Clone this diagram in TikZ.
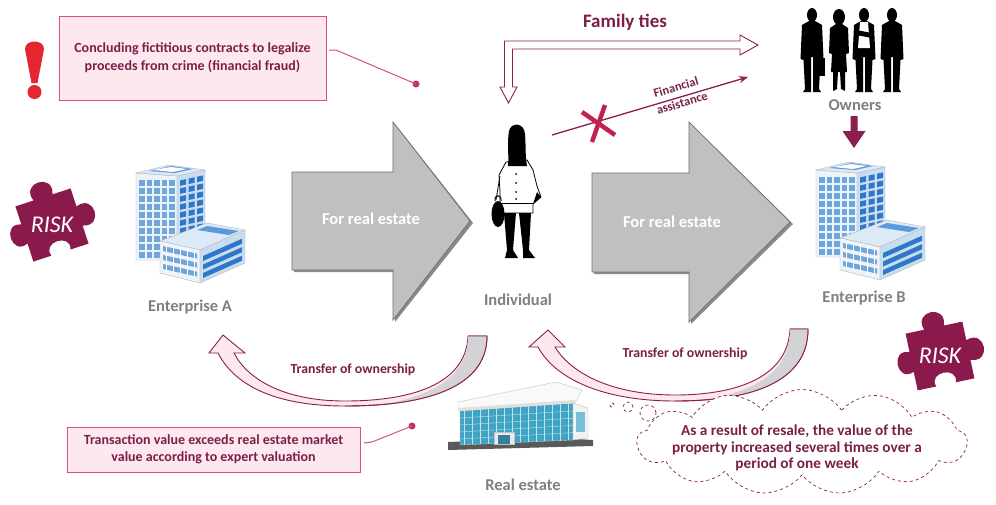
\documentclass[tikz,border=0pt]{standalone}
\usepackage{fontspec}
\setmainfont{Carlito}
\usetikzlibrary{shapes.symbols,arrows.meta}
\definecolor{maroon}{HTML}{7B1F49}
\definecolor{linemar}{HTML}{8C1D4F}
\definecolor{calbord}{HTML}{D6517D}
\definecolor{calfill}{HTML}{FDE8F0}
\definecolor{dotred}{HTML}{C8305F}
\definecolor{lblgray}{HTML}{808080}
\definecolor{arrgray}{HTML}{C0C0C3}
\definecolor{arrshadow}{HTML}{8A8A8D}
\definecolor{puzzlec}{HTML}{8A1A4B}
\definecolor{xred}{HTML}{C2224E}
\definecolor{exred}{HTML}{E5252F}
\definecolor{bldglight}{HTML}{EEF3F8}
\definecolor{bldgside}{HTML}{C9DDF0}
\definecolor{roofc}{HTML}{DCEAF7}
\definecolor{roofdark}{HTML}{5C9ADB}
\definecolor{winlight}{HTML}{6FA6DD}
\definecolor{winblue}{HTML}{2F78C8}
\definecolor{glassc}{HTML}{3FA3C4}
\definecolor{crescent}{HTML}{D3D3D6}
\tikzset{
  callout/.style={draw=calbord, line width=1pt, fill=calfill, text=maroon,
    font=\bfseries\fontsize{14}{18}\selectfont, align=center, inner sep=0pt},
  graylbl/.style={text=lblgray, font=\bfseries\fontsize{16.5}{18}\selectfont},
  whitelbl/.style={text=white, font=\bfseries\fontsize{16.5}{18}\selectfont},
  marlbl/.style={text=maroon, font=\bfseries\fontsize{13.8}{16}\selectfont},
  falabel/.style={text=maroon, font=\bfseries\fontsize{12.5}{13}\selectfont, rotate=16.6, inner sep=0pt},
  bigarrow/.style={fill=arrgray, draw=arrshadow!80!black, line width=0.7pt},
  curvearrow/.style={fill=calfill, draw=linemar, line width=0.9pt},
  bldgedge/.style={draw=gray!55, line width=0.4pt},
  office/.pic={
    % tower left face
    \filldraw[fill=bldglight, bldgedge] (1,13) -- (42,16) -- (42,100) -- (1,100) -- cycle;
    % tower right face
    \filldraw[fill=bldgside, bldgedge] (42,16) -- (70,10) -- (70,72) -- (42,78) -- cycle;
    % roof
    \filldraw[fill=roofc, bldgedge] (1,13) -- (34,5) -- (70,10) -- (42,16) -- cycle;
    \fill[roofdark] (14,11) -- (36,6) -- (58,9) -- (40,13) -- cycle;
    \fill[white] (18,10) -- (36,7) -- (52,9) -- (38,12) -- cycle;
    % left face windows
    \foreach \i in {0,...,4}{\foreach \j in {0,...,9}{
      \fill[winlight] ({4+\i*7.5},{20+\j*8}) rectangle ++(5.5,5.5);}}
    % right face windows
    \foreach \i in {0,1,2}{\foreach \j in {0,...,6}{
      \pgfmathsetmacro\xa{45+\i*8.5}
      \pgfmathsetmacro\ya{21+\j*8-0.214*(\xa-42)}
      \fill[winblue] (\xa,\ya) -- ++(6,-1.28) -- ++(0,5.5) -- ++(-6,1.28) -- cycle;}}
    % low building
    \filldraw[fill=roofc, bldgedge] (25,81) -- (72,63) -- (110,70) -- (65,90) -- cycle;
    \fill[roofdark] (62,70) -- (72,66) -- (104,71) -- (94,75) -- cycle;
    \filldraw[fill=bldglight, bldgedge] (25,81) -- (65,90) -- (65,123) -- (25,113) -- cycle;
    \filldraw[fill=bldgside, bldgedge] (65,90) -- (110,70) -- (110,103) -- (65,123) -- cycle;
    \foreach \j in {0,1,2}{
      \fill[winlight] (28,{86+\j*9}) -- (62,{93.6+\j*9}) -- (62,{98.6+\j*9}) -- (28,{91+\j*9}) -- cycle;
      \fill[winblue] (68,{96+\j*8.5}) -- (107,{78.7+\j*8.5}) -- (107,{83.7+\j*8.5}) -- (68,{101+\j*8.5}) -- cycle;}
    \foreach \k in {0,...,4}{
      \draw[white, line width=0.8pt] ({31+\k*7},{84+\k*1.57}) -- ({31+\k*7},{112+\k*1.57});}
  },
  manfig/.pic={
    \fill[black] (0,0) ellipse (5 and 7);
    \fill[black] (-3,6) -- (3,6) -- (10,10) -- (11.5,44) -- (8.5,45) -- (7,74) -- (9,77) -- (1,77) -- (1,42)
      -- (-1,42) -- (-1,77) -- (-9,77) -- (-7,74) -- (-8.5,45) -- (-11.5,44) -- (-10,10) -- cycle;
  },
  womanfig/.pic={
    \fill[black] (0,0) ellipse (6 and 8);
    \fill[black] (-3,7) -- (3,7) -- (9,11) -- (10,36) -- (7,37) -- (8,55) -- (-8,55) -- (-7,37) -- (-10,36) -- (-9,11) -- cycle;
    \fill[black] (-6,55) -- (-1,55) -- (-2,72) -- (-6,74) -- cycle;
    \fill[black] (1,55) -- (6,55) -- (6,74) -- (2,72) -- cycle;
  },
  riskpiece/.pic={
    \fill[puzzlec] (-29,-29) -- (-10,-29) .. controls (-18,-50) and (18,-50) .. (10,-29) -- (29,-29) -- (29,-10)
      .. controls (50,-18) and (50,18) .. (29,10) -- (29,29) -- (10,29) .. controls (16,13) and (-16,13) .. (-10,29)
      -- (-29,29) -- (-29,10) .. controls (-48,18) and (-48,-18) .. (-29,-10) -- cycle;
    \node[text=white, font=\fontsize{24}{24}\selectfont\itshape] at (0,0) {RISK};
  }
}
\begin{document}
\begin{tikzpicture}[x=1pt,y=-1pt]
\useasboundingbox[fill=white] (0,0) rectangle (996,504);

% ---------- exclamation mark
\fill[exred] (25,49) .. controls (25,39) and (44,39) .. (44,49) -- (37.5,83) -- (31.5,83) -- cycle;
\fill[exred] (34.5,92) circle (7);

% ---------- top callout
\node[callout, minimum width=267pt, minimum height=84pt] (topbox) at (192.5,58)
  {Concluding fictitious contracts to legalize\\proceeds from crime (financial fraud)};
\coordinate (c1a) at (329,50);
\coordinate (c1b) at (336,50);
\node[circle, fill=dotred, inner sep=0pt, minimum size=7pt] (dot1) at (416,84) {};
\draw[calbord, line width=1pt] (c1a) -- (c1b) -- (dot1.center);

% ---------- bottom callout
\node[callout, minimum width=293pt, minimum height=45pt, font=\bfseries\fontsize{14}{17}\selectfont] (botbox) at (213.5,449.5)
  {Transaction value exceeds real estate market\\value according to expert valuation};
\coordinate (c2a) at (364,443);
\coordinate (c2b) at (372,442);
\node[circle, fill=dotred, inner sep=0pt, minimum size=7pt] (dot2) at (412,426) {};
\draw[calbord, line width=1pt] (c2a) -- (c2b) -- (dot2.center);

% ---------- big gray arrows
\fill[arrshadow] (294,174) -- (395,174) -- (395,124) -- (473,223) -- (395,322) -- (395,272) -- (294,272) -- cycle;
\path[bigarrow] (292,172) -- (393,172) -- (393,122) -- (470,221) -- (393,320) -- (393,270) -- (292,270) -- cycle;
\node[whitelbl] (fre1) at (371,219) {For real estate};
\fill[arrshadow] (594,175) -- (691,175) -- (691,124) -- (793,224) -- (691,324) -- (691,274) -- (594,274) -- cycle;
\path[bigarrow] (592,173) -- (689,173) -- (689,122) -- (790,222) -- (689,322) -- (689,272) -- (592,272) -- cycle;
\node[whitelbl] (fre2) at (672,222) {For real estate};

% ---------- buildings
\pic at (135,160) {office};
\node[graylbl] (entA) at (190,307) {Enterprise A};
\pic at (815,157) {office};
\node[graylbl] (entB) at (864,298) {Enterprise B};

% ---------- individual
\node[inner sep=0pt, minimum width=60pt, minimum height=135pt] (indiv) at (512,192) {};
\filldraw[fill=white, draw=black, line width=0.8pt] (506,162) -- (527,160) -- (533,170) -- (537,186) -- (541,197)
  -- (533,204) -- (533,213) -- (500,213) -- (500,192) -- (499,175) -- cycle;
\fill[black] (509,131) .. controls (511,122) and (524,122) .. (525,134) .. controls (526,145) and (525,155) .. (527,166)
  -- (508,166) .. controls (509,155) and (507,142) .. (509,131) -- cycle;
\draw[black, line width=0.8pt] (500,176) -- (496,200);
\draw[black, line width=0.8pt] (500,203) -- (533,203);
\foreach \yy in {174,183,192,199}{\fill[black] (516,\yy) circle (1);}
\fill[black] (541,197) -- (537,192) -- (533,204) -- cycle;
\fill[black] (498,214) ellipse (6.5 and 13);
\draw[black, line width=1pt] (495,201) .. controls (494,194) and (502,194) .. (501,201);
\fill[black] (504,213) -- (516,213) -- (513,250) -- (518,258) -- (505,258) -- (507,250) -- cycle;
\fill[black] (519,213) -- (531,213) -- (529,250) -- (535,258) -- (523,258) -- (523,250) -- cycle;
\node[graylbl] (indivlbl) at (518,300) {Individual};

% ---------- owners
\node[inner sep=0pt, minimum width=102pt, minimum height=85pt] (owners) at (851,50) {};
\pic at (812,15) {manfig};
\fill[black] (818,58) rectangle (825,76);
\pic at (839,17) {womanfig};
\pic at (864,15) {manfig};
\fill[white] (860,22) -- (868,22) -- (870,48) -- (858,48) -- cycle;
\fill[black] (856,30) -- (872,33) -- (872,38) -- (856,35) -- cycle;
\pic at (892,15) {manfig};
\node[graylbl] (ownlbl) at (855,105) {Owners};
\fill[linemar] (850.5,116) -- (857.5,116) -- (857.5,131) -- (865.5,131) -- (854,148) -- (842.5,131) -- (850.5,131) -- cycle;

% ---------- family ties
\node[text=maroon, font=\bfseries\fontsize{19}{22}\selectfont] (famlbl) at (625,22) {Family ties};
\filldraw[fill=white, draw=linemar, line width=0.9pt, line join=miter]
  (500,87) -- (504.5,87) -- (504.5,41) -- (740,41) -- (740,35) -- (758,45) -- (740,55) -- (740,49)
  -- (512.5,49) -- (512.5,87) -- (517,87) -- (508.5,103) -- cycle;

% ---------- financial assistance
\coordinate (fa1) at (552,135);
\coordinate (fa2) at (748,77);
\draw[linemar, line width=1.3pt, -{Stealth[length=9pt,width=7pt]}] (fa1) -- (fa2);
\node[falabel] (falbl1) at (676,87) {Financial};
\node[falabel] (falbl2) at (682,103) {assistance};
\draw[xred, line width=4.5pt] (582,112) -- (615,135);
\draw[xred, line width=4.5pt] (605,105) -- (592,142);

% ---------- curved arrows (transfer of ownership)
\path[curvearrow] (468,336) .. controls (466,385) and (410,401) .. (345,401) .. controls (285,401) and (248,380) .. (234,353)
  -- (245,353) -- (223,335) -- (209,353) -- (218,353) .. controls (236,388) and (280,406) .. (345,406)
  .. controls (420,406) and (487,390) .. (487,336) -- cycle;
\fill[crescent] (468,336) .. controls (468,372) and (440,394) .. (385,404) .. controls (445,400) and (487,378) .. (487,336) -- cycle;
\draw[linemar, line width=0.9pt] (468,336) -- (487,336) .. controls (487,390) and (420,406) .. (345,406);
\node[marlbl] (tr1) at (353,370) {Transfer of ownership};

\path[curvearrow] (790,329) .. controls (788,378) and (735,395) .. (675,395) .. controls (615,395) and (572,375) .. (555,347)
  -- (565,347) -- (548,330) -- (529,347) -- (538,347) .. controls (556,380) and (605,401) .. (675,401)
  .. controls (745,401) and (808,385) .. (808,329) -- cycle;
\fill[crescent] (790,329) .. controls (790,366) and (765,389) .. (708,399) .. controls (765,396) and (808,374) .. (808,329) -- cycle;
\draw[linemar, line width=0.9pt] (790,329) -- (808,329) .. controls (808,385) and (745,401) .. (675,401);
\node[marlbl] (tr2) at (685,354) {Transfer of ownership};

% ---------- real estate building
\begin{scope}[shift={(448,380)}]
  \fill[gray!70!black] (0,62) -- (112,58) -- (145,60) -- (145,66) -- (0,70) -- cycle;
  \filldraw[fill=glassc, draw=gray!50] (12,30) -- (125,23) -- (125,60) -- (12,65) -- cycle;
  \foreach \k in {0,...,13}{\draw[white!70!glassc, line width=0.4pt] ({16+\k*8},{29.8-\k*0.5}) -- ({16+\k*8},{64.8-\k*0.35});}
  \foreach \k in {0,...,3}{\draw[white!70!glassc, line width=0.4pt] (12,{38+\k*7}) -- (125,{31+\k*7.2});}
  \filldraw[fill=gray!10, draw=gray!50] (125,23) -- (140,28) -- (140,58) -- (125,60) -- cycle;
  \fill[glassc!70] (128,32) rectangle (137,52);
  \filldraw[fill=gray!5, draw=gray!45] (10,22) -- (108,2) -- (134,10) -- (127,23) -- (10,31) -- cycle;
  \fill[gray!25] (10,28) -- (127,20) -- (127,23) -- (10,31) -- cycle;
  \filldraw[fill=gray!15, draw=gray!50] (46,52) rectangle (66,64);
  \fill[glassc!80!black] (50,55) rectangle (62,64);
\end{scope}
\node[inner sep=0pt, minimum width=145pt, minimum height=70pt] (realest) at (520,415) {};
\node[graylbl] (relbl) at (523,485) {Real estate};

% ---------- thought cloud
\node[circle, draw=linemar, dashed, line width=0.7pt, inner sep=0pt, minimum size=4pt] (b1) at (612,405) {};
\node[circle, draw=linemar, dashed, line width=0.7pt, inner sep=0pt, minimum size=10pt] (b2) at (628,407) {};
\node[circle, draw=linemar, dashed, line width=0.7pt, inner sep=0pt, minimum size=16pt] (b3) at (648,413) {};
\node[cloud, cloud puffs=13, cloud puff arc=110, aspect=3.1, draw=linemar, dashed, line width=0.7pt, fill=white,
  minimum width=330pt, minimum height=105pt] (cloudn) at (802,442) {};
\node[text=maroon, font=\bfseries\fontsize{15.3}{16.5}\selectfont, align=center] (cloudtxt) at (797,448)
  {As a result of resale, the value of the\\property increased several times over a\\period of one week};

% ---------- risk pieces
\pic[rotate=18] at (52,225) {riskpiece};
\pic[rotate=12] at (940,356) {riskpiece};

\end{tikzpicture}
\end{document}
